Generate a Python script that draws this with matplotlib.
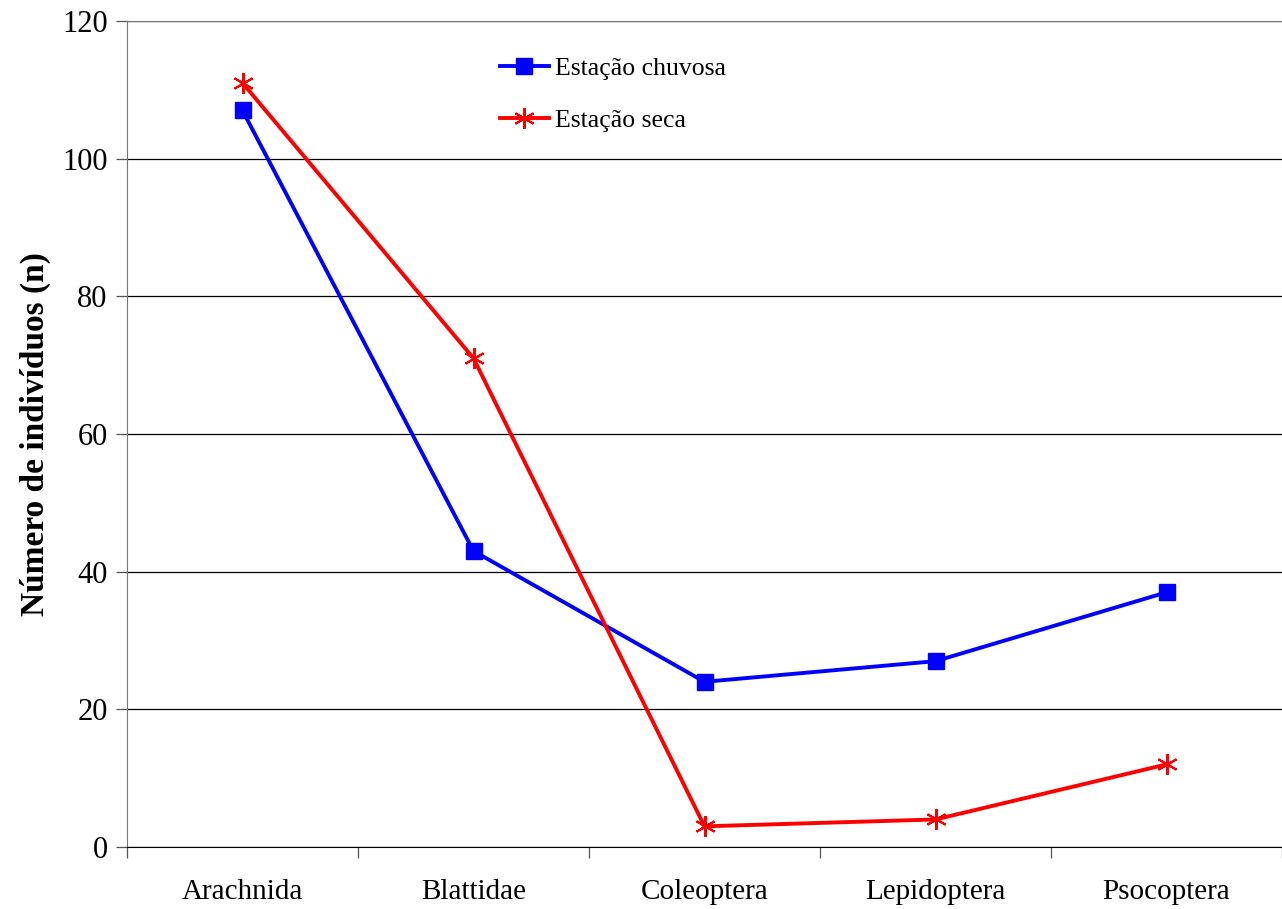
import matplotlib
matplotlib.use('Agg')
import matplotlib.pyplot as plt
import numpy as np

categorias = ['Arachnida', 'Blattidae', 'Coleoptera', 'Lepidoptera', 'Psocoptera']
chuvosa = [107, 43, 24, 27, 37]
seca = [111, 71, 3, 4, 12]
yticks = [0, 20, 40, 60, 80, 100, 120]

plt.rcParams['font.family'] = ['Liberation Serif', 'DejaVu Serif']

fig = plt.figure(figsize=(12.82, 9.09), dpi=100)
ax = fig.add_axes([127/1282, 62/909, 1155/1282, 826/909])

x = np.arange(len(categorias))
ax.plot(x, chuvosa, color='#0000ff', lw=2.8, marker='s', ms=11,
        label='Estação chuvosa', zorder=3)
ax.plot(x, seca, color='#ff0000', lw=2.8, marker=(6, 2, 0), ms=15, mew=1.5,
        label='Estação seca', zorder=3)

ax.set_xlim(-0.5, len(categorias) - 0.5)
ax.set_ylim(0, 120)
ax.set_yticks(yticks)
ax.set_yticklabels([str(v) for v in yticks], fontsize=22)
ax.yaxis.grid(True, color='black', lw=0.9)
ax.set_axisbelow(True)

# category labels centred, tick marks on the boundaries
ax.set_xticks(x)
ax.set_xticklabels(categorias, fontsize=21)
ax.tick_params(axis='x', which='major', length=0, pad=23)
ax.set_xticks(np.arange(-0.5, len(categorias) + 0.5, 1.0), minor=True)
ax.tick_params(axis='x', which='minor', length=8, width=0.9, color='#555555')
ax.tick_params(axis='y', length=8, width=0.9, color='#555555', pad=6)

ax.spines['right'].set_visible(False)
ax.spines['top'].set_color('#777777')
ax.spines['left'].set_color('#777777')
ax.spines['bottom'].set_color('black')

ax.set_ylabel('Número de indivíduos (n)', fontsize=24, fontweight='bold', labelpad=8)

ax.legend(loc='upper left', bbox_to_anchor=(0.303, 0.985), frameon=False,
          fontsize=18.5, handlelength=1.9, labelspacing=1.15, handletextpad=0.25)

fig.savefig('out.png', dpi=100)
